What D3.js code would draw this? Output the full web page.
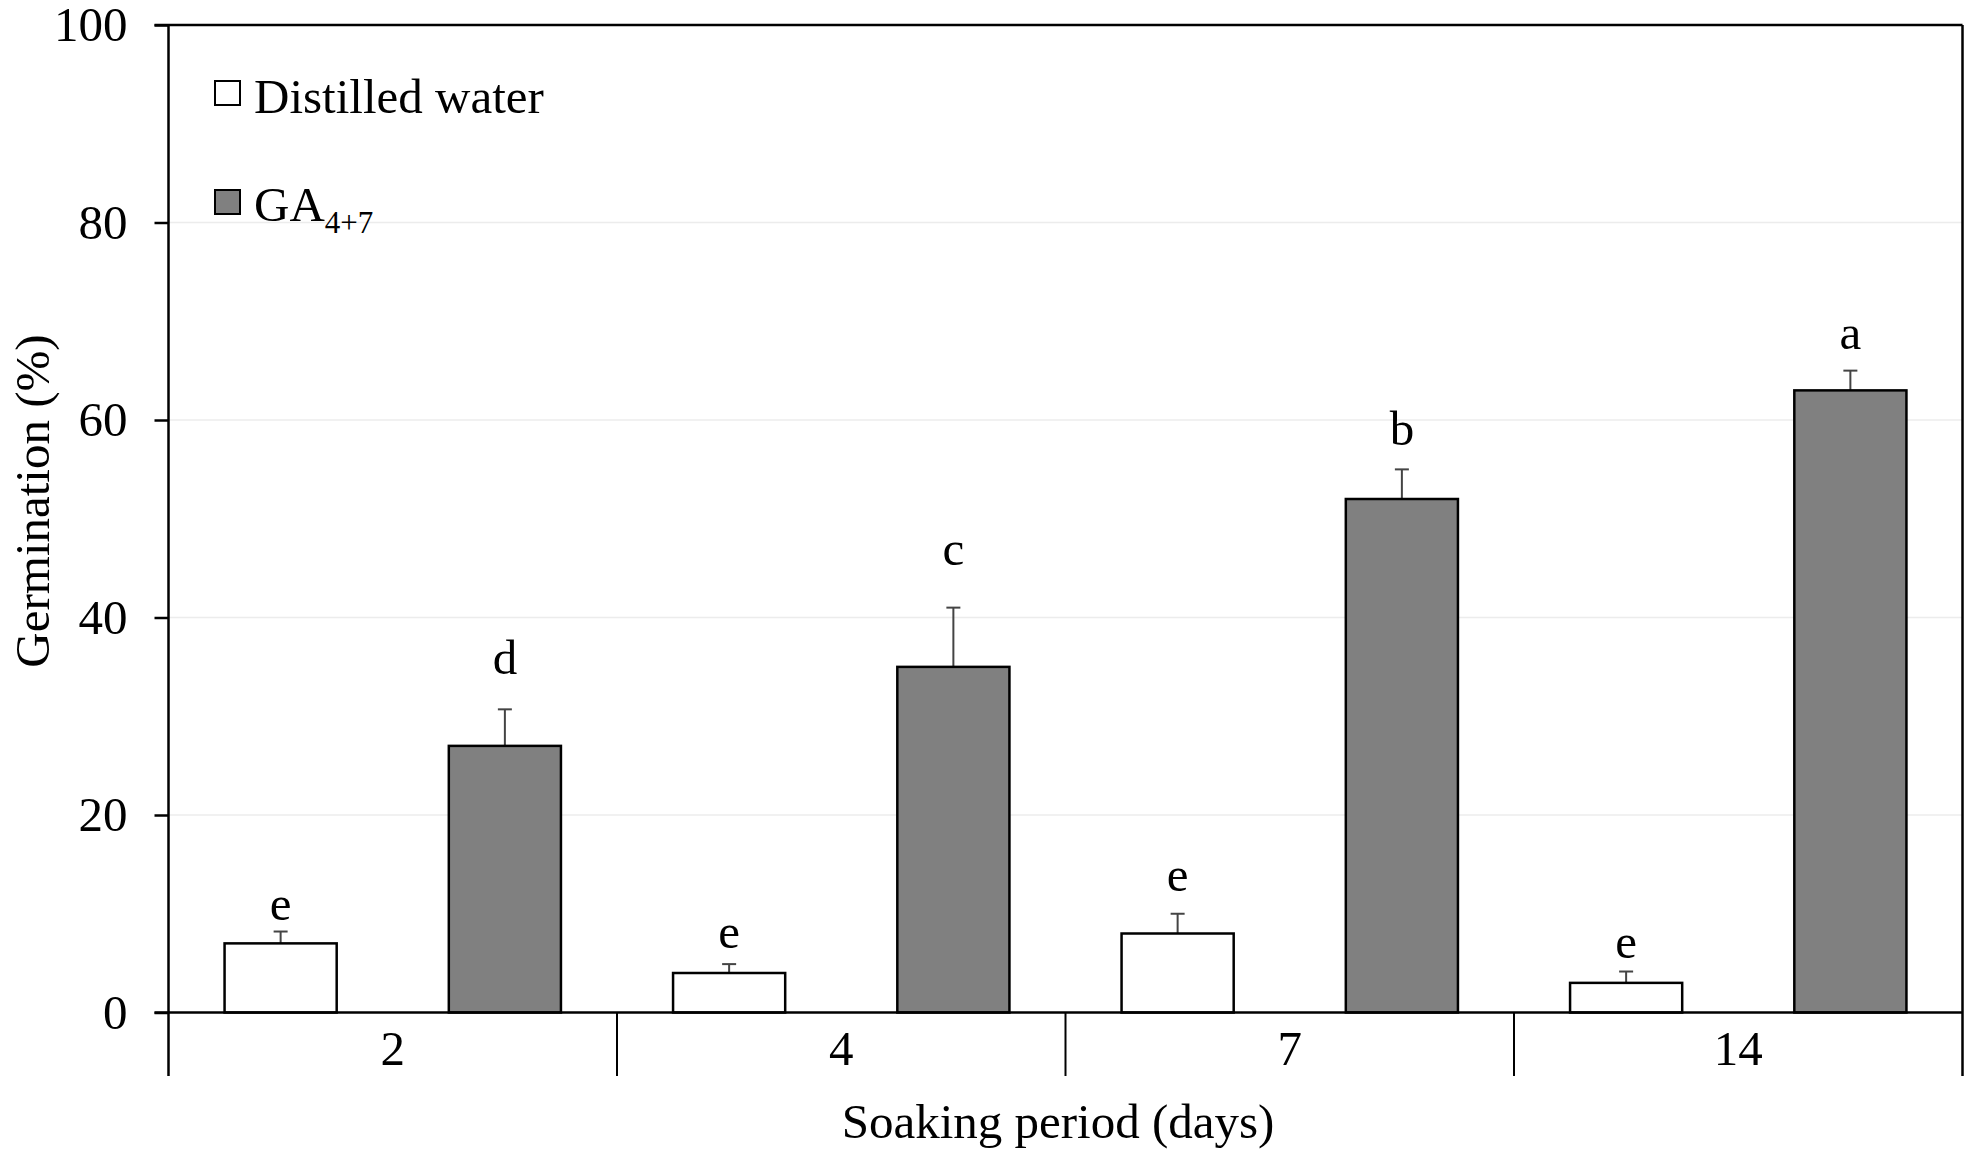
<!DOCTYPE html>
<html>
<head>
<meta charset="utf-8">
<script src="https://cdn.jsdelivr.net/npm/d3@7"></script>
<style>
  html, body { margin: 0; padding: 0; background: #fff; }
  svg { display: block; }
  text { font-family: "Liberation Serif", "Times New Roman", serif; fill: #000; }
</style>
</head>
<body>
<svg id="chart" width="1969" height="1153"></svg>
<script>
// ---- data ----
const categories = ["2", "4", "7", "14"];
const seriesNames = ["Distilled water", "GA4+7"];
const waterValues = [7, 4, 8, 3];
const waterErrors = [1.2, 0.9, 2.0, 1.15];
const gaValues = [27, 35, 52, 63];
const gaErrors = [3.7, 6.0, 3.0, 2.0];
const waterLetters = ["e", "e", "e", "e"];
const gaLetters = ["d", "c", "b", "a"];
const waterLetterY = [9.4, 6.5, 12.3, 5.5];
const gaLetterY = [34.3, 45.3, 57.5, 67.2];
const yTicks = [0, 20, 40, 60, 80, 100];
const gridTicks = [20, 40, 60, 80];

(function () {
// ---- layout ----
const pLeft = 168.5, pRight = 1962.5, pTop = 25, pBottom = 1012.5, sepBottom = 1076;
const svg = d3.select("#chart");

const y = d3.scaleLinear().domain([0, 100]).range([pBottom, pTop]);
const x = d3.scaleBand().domain(categories).range([pLeft, pRight]).padding(0);
const xi = d3.scaleBand().domain(seriesNames).range([0, x.bandwidth()])
  .paddingInner(0.5).paddingOuter(0.25);

const fills = { "Distilled water": "#ffffff", "GA4+7": "#808080" };

// gridlines
svg.append("g").selectAll("line").data(gridTicks).join("line")
  .attr("x1", pLeft).attr("x2", pRight)
  .attr("y1", d => y(d)).attr("y2", d => y(d))
  .attr("stroke", "#ececec").attr("stroke-width", 1.5);

// rows
const rows = categories.map((c, i) => [
  { cat: c, s: seriesNames[0], v: waterValues[i], e: waterErrors[i], l: waterLetters[i], ly: waterLetterY[i] },
  { cat: c, s: seriesNames[1], v: gaValues[i], e: gaErrors[i], l: gaLetters[i], ly: gaLetterY[i] }
]).flat();
const cx = d => x(d.cat) + xi(d.s) + xi.bandwidth() / 2;

// error bars
const eb = svg.append("g").selectAll("g").data(rows).join("g")
  .attr("stroke", "#444").attr("stroke-width", 2);
eb.append("line")
  .attr("x1", cx).attr("x2", cx)
  .attr("y1", d => y(d.v)).attr("y2", d => y(d.v + d.e));
eb.append("line")
  .attr("x1", d => cx(d) - 7).attr("x2", d => cx(d) + 7)
  .attr("y1", d => y(d.v + d.e)).attr("y2", d => y(d.v + d.e));

// bars
svg.append("g").selectAll("rect").data(rows).join("rect")
  .attr("x", d => x(d.cat) + xi(d.s))
  .attr("width", xi.bandwidth())
  .attr("y", d => y(d.v))
  .attr("height", d => y(0) - y(d.v))
  .attr("fill", d => fills[d.s])
  .attr("stroke", "#000").attr("stroke-width", 2.5);

// letters
svg.append("g").selectAll("text").data(rows).join("text")
  .attr("x", cx)
  .attr("y", d => y(d.ly))
  .attr("text-anchor", "middle")
  .attr("font-size", 49)
  .text(d => d.l);

// y axis
const yAxis = d3.axisLeft(y).tickValues(yTicks).tickSize(14).tickSizeOuter(0).tickPadding(27);
const gy = svg.append("g").attr("transform", `translate(${pLeft},0)`).call(yAxis);
gy.select(".domain").remove();
gy.selectAll(".tick line").attr("stroke", "#000").attr("stroke-width", 2.5);
gy.selectAll(".tick text").attr("font-size", 49).attr("font-family", "Liberation Serif, Times New Roman, serif").attr("fill", "#000");

// frame lines
const frame = svg.append("g").attr("stroke", "#000").attr("stroke-width", 2.5).attr("fill", "none");
frame.append("line").attr("x1", pLeft).attr("x2", pLeft).attr("y1", pTop).attr("y2", sepBottom);
frame.append("line").attr("x1", pLeft - 14).attr("x2", pRight).attr("y1", pTop).attr("y2", pTop);
frame.append("line").attr("x1", pRight).attr("x2", pRight).attr("y1", pTop).attr("y2", sepBottom);
frame.append("line").attr("x1", pLeft - 14).attr("x2", pRight).attr("y1", y(0)).attr("y2", y(0));

// x axis: category separators & labels
const boundaries = categories.slice(1).map(c => x(c));
svg.append("g").selectAll("line").data(boundaries).join("line")
  .attr("x1", d => d).attr("x2", d => d)
  .attr("y1", y(0)).attr("y2", sepBottom)
  .attr("stroke", "#000").attr("stroke-width", 2);
svg.append("g").selectAll("text").data(categories).join("text")
  .attr("x", d => x(d) + x.bandwidth() / 2)
  .attr("y", 1065)
  .attr("text-anchor", "middle")
  .attr("font-size", 49)
  .text(d => d);

// axis titles
svg.append("text")
  .attr("transform", `translate(49,501) rotate(-90)`)
  .attr("text-anchor", "middle")
  .attr("font-size", 49)
  .text("Germination (%)");
svg.append("text")
  .attr("x", 1058).attr("y", 1138)
  .attr("text-anchor", "middle")
  .attr("font-size", 49)
  .text("Soaking period (days)");

// legend
const lg = svg.append("g");
lg.append("rect").attr("x", 215).attr("y", 81).attr("width", 25).attr("height", 24)
  .attr("fill", fills[seriesNames[0]]).attr("stroke", "#000").attr("stroke-width", 2);
lg.append("text").attr("x", 254).attr("y", 113).attr("font-size", 49).text(seriesNames[0]);
lg.append("rect").attr("x", 215).attr("y", 190).attr("width", 25).attr("height", 24)
  .attr("fill", fills[seriesNames[1]]).attr("stroke", "#000").attr("stroke-width", 2);
const gt = lg.append("text").attr("x", 254).attr("y", 221).attr("font-size", 49);
gt.append("tspan").text("GA");
gt.append("tspan").attr("font-size", 31).attr("dy", 12).text("4+7");
})();
</script>
</body>
</html>
